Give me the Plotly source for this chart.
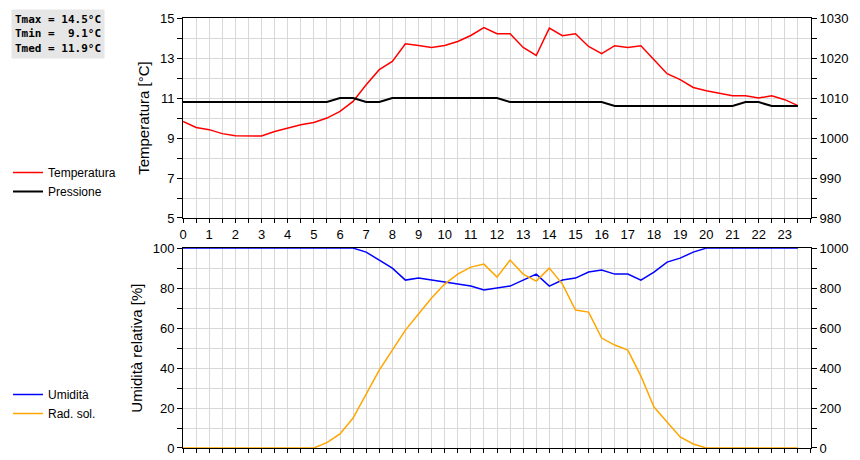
import plotly.graph_objects as go

hours = [i * 0.5 for i in range(48)]

temperatura = [9.83, 9.53, 9.42, 9.22, 9.12, 9.1, 9.1, 9.33, 9.5, 9.67, 9.78, 10.0,
               10.33, 10.83, 11.67, 12.42, 12.83, 13.72, 13.63, 13.53, 13.63, 13.83, 14.13, 14.53,
               14.22, 14.22, 13.53, 13.13, 14.5, 14.12, 14.22, 13.58, 13.22, 13.62, 13.53, 13.62,
               12.92, 12.22, 11.92, 11.53, 11.37, 11.25, 11.12, 11.12, 11.0, 11.12, 10.92, 10.62]
pressione = [1009] * 12 + [1010, 1010, 1009, 1009] + [1010] * 9 + [1009] * 8 + [1008] * 10 + [1009, 1009] + [1008] * 3
umidita = [100] * 14 + [98, 94, 90, 84, 85, 84, 83, 82, 81, 79, 80, 81, 84, 87, 81, 84,
                        85, 88, 89, 87, 87, 84, 88, 93, 95, 98] + [100] * 8
radiazione = [0] * 11 + [27, 70, 150, 270, 390, 490, 590, 670, 750, 820, 870, 905, 920,
                         855, 940, 870, 835, 900, 820, 690, 680, 550, 515, 490, 360, 205, 130,
                         55, 20] + [0] * 8

fig = go.Figure()
fig.add_trace(go.Scatter(x=hours, y=temperatura, name="Temperatura", mode="lines",
                         line=dict(color="#ff0000", width=1.5), xaxis="x", yaxis="y", legend="legend"))
fig.add_trace(go.Scatter(x=hours, y=pressione, name="Pressione", mode="lines",
                         line=dict(color="#000000", width=2), xaxis="x", yaxis="y2", legend="legend"))
fig.add_trace(go.Scatter(x=hours, y=umidita, name="Umidità", mode="lines",
                         line=dict(color="#0000ff", width=1.5), xaxis="x2", yaxis="y3", legend="legend2"))
fig.add_trace(go.Scatter(x=hours, y=radiazione, name="Rad. sol.", mode="lines",
                         line=dict(color="#ffa500", width=1.5), xaxis="x2", yaxis="y4", legend="legend2"))

xvals = [i * 0.5 for i in range(49)]
xtext = [str(int(v)) if v == int(v) and v < 24 else "" for v in xvals]
tickfont = dict(family="Liberation Sans", size=13, color="black")
titlefont = dict(family="Liberation Sans", size=15, color="black")
xax = dict(range=[0, 24], tickvals=xvals, ticktext=xtext, ticks="outside", ticklen=4,
           tickcolor="black", showline=True, linecolor="black", mirror=True, automargin=False,
           showgrid=True, gridcolor="#d8d8d8", zeroline=False, tickfont=tickfont)

def yax(rng, step, lab_step, title, side, dom=None, overl=None, anchor="x"):
    vals = [rng[0] + step * i for i in range(int(round((rng[1] - rng[0]) / step)) + 1)]
    text = [str(v) if (v - rng[0]) % lab_step == 0 else "" for v in vals]
    d = dict(range=rng, tickvals=vals, ticktext=text, ticks="outside", ticklen=5,
             tickcolor="black", showline=True, linecolor="black", mirror=True, automargin=False,
             showgrid=overl is None, gridcolor="#d8d8d8", zeroline=False, tickfont=tickfont,
             title=dict(text=title, font=titlefont, standoff=6), side=side, anchor=anchor)
    if dom:
        d["domain"] = dom
    if overl:
        d["overlaying"] = overl
    return d

fig.update_layout(
    width=860, height=460, margin=dict(l=0, r=0, t=0, b=0),
    paper_bgcolor="white", plot_bgcolor="white",
    xaxis=dict(xax, domain=[0.2035, 0.9337], anchor="y"),
    xaxis2=dict(xax, domain=[0.2035, 0.9337], anchor="y3"),
    yaxis=yax([5, 15], 1, 2, "Temperatura [°C]", "left", [0.5435, 0.978], anchor="x"),
    yaxis2=yax([980, 1030], 5, 10, "Pressione [mbar]", "right", overl="y", anchor="x"),
    yaxis3=yax([0, 100], 10, 20, "Umidità relativa [%]", "left", [0.0435, 0.478], anchor="x2"),
    yaxis4=yax([0, 1000], 100, 200, "Rad. solare [W/mq]", "right", overl="y3", anchor="x2"),
    legend=dict(x=0, y=1 - 150 / 460, xanchor="left", yanchor="top", bgcolor="rgba(0,0,0,0)",
                font=dict(family="Liberation Sans", size=12, color="black"), tracegroupgap=0),
    legend2=dict(x=0, y=1 - 372 / 460, xanchor="left", yanchor="top", bgcolor="rgba(0,0,0,0)",
                 font=dict(family="Liberation Sans", size=12, color="black"), tracegroupgap=0),
    annotations=[dict(
        text="<b>Tmax = 14.5°C<br>Tmin =  9.1°C<br>Tmed = 11.9°C</b>",
        x=0.003, y=0.997, xref="paper", yref="paper", xanchor="left", yanchor="top",
        showarrow=False, align="left", bgcolor="#e6e6e6", borderpad=3,
        font=dict(family="DejaVu Sans Mono", size=11, color="black"))],
)

fig.write_html("out.html")
